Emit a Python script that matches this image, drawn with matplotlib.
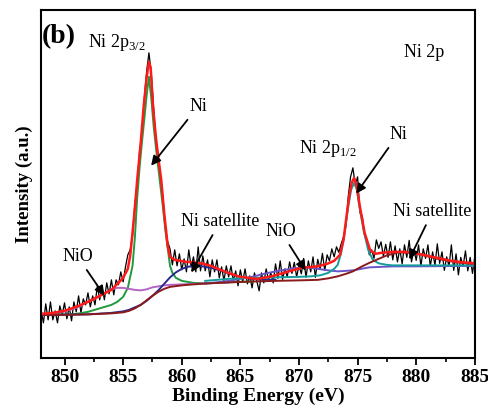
import matplotlib
matplotlib.use("Agg")
import numpy as np
import matplotlib.pyplot as plt
from matplotlib.ticker import MultipleLocator

plt.rcParams['font.family'] = ['Liberation Serif', 'DejaVu Serif']

# raw spectrum, 0.2 eV steps from 848 to 885 eV (intensity in a.u.)
raw_energy = np.round(np.arange(848.0, 885.01, 0.2), 1)
raw_counts = [
    48, 35, 54, 38, 56, 38, 47, 35, 52, 43,
    55, 39, 51, 37, 56, 46, 62, 45, 59, 53,
    65, 51, 62, 53, 72, 58, 71, 58, 75, 64,
    78, 63, 78, 73, 86, 76, 91, 103, 108, 122,
    154, 173, 206, 223, 259, 286, 305, 285, 251, 216,
    203, 180, 160, 130, 116, 109, 93, 108, 92, 104,
    88, 99, 86, 108, 91, 101, 86, 111, 87, 102,
    87, 98, 81, 98, 86, 98, 80, 91, 77, 92,
    81, 92, 77, 87, 72, 88, 76, 89, 74, 82,
    70, 85, 77, 67, 85, 75, 89, 78, 85, 75,
    94, 79.5, 97, 78.5, 89, 81, 96, 84.5, 95.5, 81,
    92.5, 84, 99.5, 80.5, 97, 86, 101, 80.5, 98.5, 89,
    104.5, 87.5, 103, 97, 109, 101, 111, 105.5, 114, 121,
    132, 161, 181, 190, 173, 181, 145, 142, 122, 118,
    103, 108, 99.5, 118, 109.5, 116, 101.5, 113.5, 100.5, 116,
    98, 112, 96, 109, 94, 113, 100.5, 117.5, 96, 108.5,
    97.5, 113, 91.5, 109, 99.5, 113, 91.5, 106, 92.5, 114,
    94.5, 106, 87.5, 101, 91.5, 113, 87.5, 104, 83, 100.5,
    91.5, 107, 87, 100.5, 84.5, 101.5,
]

# fitted envelope
fit_energy = [848, 849, 850, 851, 852, 853, 854, 854.6, 855, 855.4, 855.6, 855.8,
              856, 856.2, 856.5, 856.75, 857, 857.2, 857.35, 857.55, 857.8, 858,
              858.25, 858.5, 858.8, 859, 859.4, 860.4, 861.5, 862.5, 863.3, 864.2,
              865, 866.4, 867.5, 868.7, 870.2, 871.6, 872.4, 873, 873.5, 873.8,
              874.05, 874.3, 874.5, 874.7, 874.9, 875.2, 875.6, 876.06, 876.5, 877,
              878, 879, 880, 881, 882, 883, 884, 885]
fit_total = [44, 45, 47, 51, 56, 62, 68, 75, 80, 89, 102, 125,
             150, 178, 215, 251, 280, 296, 290, 251, 220, 200,
             178, 145, 112, 101, 98, 96, 95, 92, 88, 84,
             81, 79, 81, 85, 90, 91.5, 94, 97, 103, 118,
             141, 163, 175, 180, 173, 151, 125, 108, 104, 105,
             106, 106, 104.5, 102, 99.5, 97, 95.5, 94.5]

# background + Ni 2p satellite at ~878 eV
bg_energy = [848, 850, 852, 853, 854, 855, 855.5, 856, 856.5, 857, 857.5, 858,
             858.5, 859, 860, 861, 862, 864, 866, 868, 870, 871.6, 872.5, 873.3,
             874, 874.6, 875.3, 876, 876.8, 877.5, 878.5, 879.5, 880.5, 881.5,
             882.5, 883.5, 885]
bg_sat2 = [43, 43, 43.5, 44, 44.5, 45.5, 47, 49.5, 53, 57.5, 62, 66,
           69, 71, 72.5, 73.5, 74.3, 75.5, 76.3, 77, 77.5, 78, 79.5, 81.5,
           84, 86.5, 91, 95, 99, 102.5, 105.5, 105, 103, 100,
           97.5, 95.5, 94]

# Ni 2p3/2 (metallic Ni)
ni32_energy = [848, 850, 851, 852, 853, 854, 854.5, 855, 855.4, 855.8, 856, 856.2,
               856.4, 856.6, 856.8, 857, 857.2, 857.4, 857.6, 857.8, 858, 858.2,
               858.4, 858.6, 858.8, 859, 859.2, 859.5, 860, 861, 862, 864, 866]
ni32 = [43, 43.5, 44, 46, 49.5, 53, 56, 61, 70, 92, 120, 160,
        190, 215, 238, 262, 281, 260, 232, 210, 190, 170,
        150, 128, 110, 92, 85, 80, 77, 75, 74.5, 75.5, 76.5]

# NiO (2p3/2)
nio1_energy = [848, 849, 850, 851, 851.5, 852, 853, 853.5, 854, 854.5, 855, 855.5,
               856, 856.5, 857, 857.5, 858, 858.5, 859, 860, 861, 862, 864]
nio1 = [43.5, 44.5, 46.5, 50, 53, 56, 61.5, 65, 68.5, 70, 70, 69,
        68, 67.5, 68.5, 70.5, 71.5, 72.5, 73, 73.5, 74, 74.5, 75.5]

# Ni satellite at ~861 eV
sat1_energy = [848, 852, 854, 855, 855.5, 856, 856.5, 857, 857.5, 858, 858.5, 859,
               859.5, 860, 860.5, 861, 861.5, 862, 862.7, 863.5, 864.4, 865.2, 866,
               867, 868]
sat1 = [43, 43.5, 45, 46.5, 48, 50.5, 53, 57, 62, 67.5, 74, 80.5,
        85.5, 89, 91, 92, 92, 91, 89.5, 86.5, 83, 80.5, 79,
        78, 78]

# NiO (2p1/2)
nio2_energy = [862, 863, 864, 865, 866, 867, 868, 869, 870, 870.5, 871, 871.6,
               872.5, 873.3, 874, 874.6, 875.3, 876, 877, 878, 880, 885]
nio2 = [74.5, 75.5, 77, 79, 81, 84, 86.5, 88.5, 90, 90.5, 90, 89,
        87.5, 86.5, 87, 87.5, 89, 90.5, 91, 91.5, 91.5, 92]

# Ni 2p1/2 (metallic Ni)
ni12_energy = [862, 864, 866, 868, 870, 871, 871.8, 872.5, 873, 873.3, 873.6, 873.9,
               874.2, 874.45, 874.7, 874.95, 875.1, 875.5, 875.9, 876.3, 876.8, 877.5,
               878, 880, 885]
ni12 = [77, 79, 80, 80.5, 81, 81.5, 82.5, 85, 89, 93, 105, 125,
        151, 168, 175, 168, 155, 128, 108, 98, 94.5, 93,
        92.5, 92.5, 92.5]

fig = plt.figure(figsize=(4.89, 4.09), dpi=100)
ax = fig.add_axes([0.084, 0.125, 0.887, 0.851])

ax.plot(raw_energy, raw_counts, color='black', lw=0.9)
ax.plot(ni32_energy, ni32, color='#1f9a3c', lw=1.4)
ax.plot(nio1_energy, nio1, color='#b564c4', lw=1.4)
ax.plot(sat1_energy, sat1, color='#2a2a8f', lw=1.4)
ax.plot(nio2_energy, nio2, color='#6a55c8', lw=1.4)
ax.plot(ni12_energy, ni12, color='#169c9c', lw=1.4)
ax.plot(bg_energy, bg_sat2, color='#8b1a1a', lw=1.4)
ax.plot(fit_energy, fit_total, color='#ff1a1a', lw=1.8)

ax.set_xlim(848, 885)
ax.set_ylim(0, 348)
ax.xaxis.set_major_locator(MultipleLocator(5))
ax.xaxis.set_minor_locator(MultipleLocator(2.5))
ax.tick_params(axis='x', which='major', direction='out', length=5, width=1.3, labelsize=14, pad=3)
ax.tick_params(axis='x', which='minor', direction='out', length=3, width=1.2)
ax.set_yticks([])
for lab in ax.get_xticklabels():
    lab.set_fontweight('bold')
for sp in ax.spines.values():
    sp.set_linewidth(1.5)

ax.set_xlabel('Binding Energy (eV)', fontsize=14, fontweight='bold', labelpad=1)
ax.set_ylabel('Intensity (a.u.)', fontsize=13.5, fontweight='bold', labelpad=6)

ax.text(848.05, 321, '(b)', fontsize=20, fontweight='bold', va='center')
ax.text(852.0, 311, r'Ni 2p$_{\mathregular{3/2}}$', fontsize=13)
ax.text(879.0, 301, 'Ni 2p', fontsize=13)
ax.text(870.0, 205, r'Ni 2p$_{\mathregular{1/2}}$', fontsize=13)

arrow = dict(arrowstyle='-|>', color='black', lw=1.3, mutation_scale=14)
ax.annotate('Ni', xy=(857.24, 190), xytext=(861.4, 243), fontsize=13,
            ha='center', va='bottom', arrowprops=arrow)
ax.annotate('Ni', xy=(874.74, 162), xytext=(878.45, 215), fontsize=13,
            ha='center', va='bottom', arrowprops=arrow)
ax.annotate('Ni satellite', xy=(860.69, 83), xytext=(863.3, 128), fontsize=13,
            ha='center', va='bottom', arrowprops=arrow)
ax.annotate('NiO', xy=(853.53, 60), xytext=(851.1, 93), fontsize=13,
            ha='center', va='bottom', arrowprops=arrow)
ax.annotate('NiO', xy=(870.69, 85), xytext=(868.45, 118), fontsize=13,
            ha='center', va='bottom', arrowprops=arrow)
ax.annotate('Ni satellite', xy=(879.3, 96), xytext=(881.4, 138), fontsize=13,
            ha='center', va='bottom', arrowprops=arrow)

fig.savefig('out.png', dpi=100)
